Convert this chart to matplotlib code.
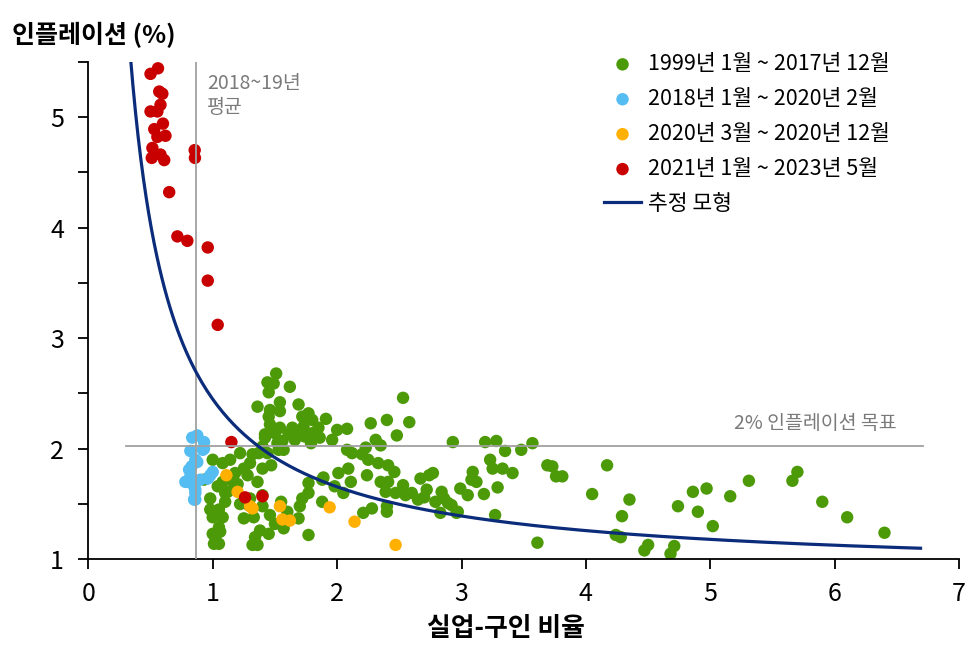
import numpy as np
import matplotlib
matplotlib.use('Agg')
import matplotlib.pyplot as plt
from matplotlib.ticker import MultipleLocator

plt.rcParams['font.family'] = ['Noto Sans CJK KR', 'DejaVu Sans']

# (실업-구인 비율, 인플레이션)
green_pts = [
    (1.00, 1.90), (0.93, 1.72), (1.08, 1.87), (1.14, 1.90), (1.04, 1.66),
    (1.12, 1.61), (1.10, 1.52), (0.98, 1.55), (0.98, 1.45), (1.05, 1.45),
    (1.08, 1.38), (1.00, 1.38), (1.05, 1.29), (1.00, 1.23), (1.01, 1.14),
    (1.05, 1.14), (1.08, 1.70), (1.17, 1.69), (1.18, 1.78), (1.02, 1.20),
    (1.06, 1.25), (1.10, 1.60),
    (1.22, 1.96), (1.32, 1.95), (1.37, 1.96), (1.30, 1.87), (1.25, 1.82),
    (1.40, 1.82), (1.36, 1.70), (1.29, 1.49), (1.33, 1.38), (1.25, 1.37),
    (1.40, 1.48), (1.38, 1.26), (1.45, 1.23), (1.34, 1.20), (1.36, 1.13),
    (1.50, 1.32), (1.57, 1.28), (1.53, 1.99), (1.57, 1.99), (1.44, 1.96),
    (1.20, 1.68), (1.28, 1.76), (1.47, 1.85), (1.30, 1.55), (1.22, 1.50),
    (1.40, 1.58), (1.32, 1.13), (1.46, 1.40), (1.55, 1.52), (1.60, 1.43),
    (1.51, 2.68), (1.44, 2.60), (1.49, 2.59), (1.62, 2.56), (1.45, 2.51),
    (1.36, 2.38), (1.54, 2.42), (1.69, 2.40), (1.46, 2.35), (1.54, 2.34),
    (1.45, 2.29), (1.72, 2.29), (1.77, 2.32), (1.80, 2.26), (1.91, 2.27),
    (1.46, 2.22), (1.54, 2.19), (1.64, 2.19), (1.73, 2.20), (1.85, 2.19),
    (2.00, 2.17), (2.08, 2.18), (1.42, 2.13), (1.50, 2.14), (1.61, 2.13),
    (1.74, 2.11), (1.86, 2.10), (1.96, 2.08), (1.56, 2.07), (1.42, 2.10),
    (1.52, 2.05), (1.68, 2.16), (1.80, 2.14), (1.66, 2.08), (1.79, 2.05),
    (1.40, 2.02),
    (2.27, 2.23), (2.40, 2.26), (2.53, 2.46), (2.58, 2.24), (2.48, 2.12),
    (2.31, 2.08), (2.35, 2.03), (2.23, 2.01), (2.08, 1.99), (2.12, 1.96),
    (2.25, 1.90), (2.33, 1.87), (2.41, 1.85), (2.09, 1.82), (2.24, 1.76),
    (2.01, 1.78), (1.89, 1.74), (2.11, 1.70), (2.35, 1.70), (2.41, 1.70),
    (2.46, 1.79), (1.88, 1.72), (1.77, 1.69), (1.77, 1.60), (2.39, 1.61),
    (2.47, 1.60), (2.28, 1.46), (2.21, 1.42), (2.40, 1.48), (2.40, 1.43),
    (1.88, 1.52), (1.70, 1.48), (1.69, 1.37), (1.77, 1.22), (1.72, 1.55),
    (2.20, 1.95), (1.98, 1.66), (2.05, 1.60),
    (2.53, 1.67), (2.67, 1.73), (2.77, 1.78), (2.74, 1.76), (2.60, 1.60),
    (2.72, 1.63), (2.84, 1.61), (2.99, 1.64), (3.05, 1.58), (2.65, 1.54),
    (2.79, 1.52), (2.89, 1.51), (2.97, 1.43), (2.83, 1.42), (2.96, 1.42),
    (2.93, 2.06), (3.19, 2.06), (3.28, 2.07), (3.35, 1.98), (3.48, 1.99),
    (3.57, 2.05), (3.23, 1.90), (3.25, 1.82), (3.33, 1.82), (3.41, 1.78),
    (3.09, 1.79), (3.12, 1.70), (3.08, 1.72), (3.27, 1.40), (3.29, 1.65),
    (3.18, 1.59), (3.61, 1.15), (2.55, 1.58), (2.70, 1.56), (2.86, 1.55),
    (2.92, 1.49),
    (3.69, 1.85), (3.73, 1.84), (3.76, 1.75), (3.81, 1.75), (4.17, 1.85),
    (4.05, 1.59), (4.35, 1.54), (4.29, 1.39), (4.24, 1.22), (4.28, 1.20),
    (4.50, 1.13), (4.47, 1.08), (4.71, 1.12), (4.68, 1.05), (4.74, 1.48),
    (4.86, 1.61), (4.97, 1.64), (4.90, 1.43), (5.02, 1.30), (5.16, 1.57),
    (5.31, 1.71), (5.66, 1.71), (5.70, 1.79), (5.90, 1.52), (6.10, 1.38),
    (6.40, 1.24),
]

blue_pts = [
    (0.835, 2.10), (0.876, 2.12), (0.93, 2.06), (0.93, 2.00), (0.82, 1.98),
    (0.92, 1.99), (0.86, 1.90), (0.876, 1.88), (0.81, 1.81), (0.82, 1.75),
    (0.98, 1.76), (1.00, 1.79), (0.96, 1.73), (0.78, 1.70), (0.795, 1.70),
    (0.85, 1.66), (0.86, 1.63), (0.86, 1.60), (0.85, 1.54), (0.86, 1.54),
    (0.83, 1.84), (0.90, 1.72),
]

orange_pts = [
    (1.20, 1.61), (1.11, 1.76), (1.30, 1.48), (1.32, 1.46), (1.54, 1.48),
    (1.56, 1.36), (1.62, 1.35), (1.94, 1.47), (2.14, 1.34), (2.47, 1.13),
]

red_pts = [
    (0.56, 5.44), (0.50, 5.39), (0.57, 5.23), (0.595, 5.21), (0.58, 5.11),
    (0.50, 5.05), (0.555, 5.05), (0.60, 4.94), (0.53, 4.89), (0.62, 4.83),
    (0.555, 4.82), (0.515, 4.72), (0.58, 4.66), (0.51, 4.63), (0.61, 4.61),
    (0.855, 4.70), (0.857, 4.63), (0.65, 4.32), (0.716, 3.92), (0.796, 3.88),
    (0.96, 3.82), (0.96, 3.52), (1.04, 3.12), (1.15, 2.06), (1.26, 1.56),
    (1.40, 1.57),
]

labels = ['1999년 1월 ~ 2017년 12월', '2018년 1월 ~ 2020년 2월',
          '2020년 3월 ~ 2020년 12월', '2021년 1월 ~ 2023년 5월']
colors = ['#4c9a08', '#55bdf2', '#ffb000', '#c80000']

# estimated model: inflation = a + b / ratio
model_a = 0.863
model_b = 1.585
model_x = (0.337, 6.69)

avg_ratio = 0.866      # 2018~19 average
target = 2.02          # 2% target line


def draw():
    fig = plt.figure(figsize=(9.76, 6.64), dpi=100)
    ax = fig.add_axes([0.0905, 0.1577, 0.8922, 0.7494])

    groups = [green_pts, blue_pts, orange_pts, red_pts]
    for pts, lab, col in zip(groups, labels, colors):
        xs = [p[0] for p in pts]
        ys = [p[1] for p in pts]
        ax.scatter(xs, ys, s=80, color=col, edgecolors='none',
                   label=lab, zorder=2)

    xx = np.linspace(model_x[0], model_x[1], 300)
    ax.plot(xx, model_a + model_b / xx, color='#0b2c7a', lw=2.3,
            label='추정 모형', zorder=4)

    ax.plot([avg_ratio, avg_ratio], [1, 5.5], color='#a0a0a0', lw=1.3,
            zorder=3)
    ax.plot([0.30, 6.71], [target, target], color='#a0a0a0', lw=1.3,
            zorder=3)
    ax.text(0.955, 5.40, '2018~19년\n평균', color='#7a7a7a', fontsize=14,
            ha='left', va='top', linespacing=1.2)
    ax.text(5.84, 2.23, '2% 인플레이션 목표', color='#7a7a7a',
            fontsize=14, ha='center', va='center')

    ax.set_xlim(0, 7)
    ax.set_ylim(1, 5.5)
    ax.set_xticks(range(0, 8))
    ax.set_yticks([1, 2, 3, 4, 5])
    ax.yaxis.set_minor_locator(MultipleLocator(0.5))
    ax.tick_params(axis='both', which='both', direction='out', width=1.3,
                   length=7.5, labelsize=18)
    ax.tick_params(axis='y', which='major', pad=10)
    ax.tick_params(axis='x', pad=8)
    for side in ['top', 'right']:
        ax.spines[side].set_visible(False)
    for side in ['left', 'bottom']:
        ax.spines[side].set_linewidth(1.3)

    fig.text(12 / 976, 1 - 35 / 664, '인플레이션 (%)', fontsize=18,
             fontweight='bold', ha='left', va='center')
    ax.set_xlabel('실업-구인 비율', fontsize=18.6, fontweight='bold')
    ax.xaxis.label.set_va('center')
    ax.xaxis.set_label_coords(0.4797, -0.14)

    ax.legend(loc='upper left', bbox_to_anchor=(604 / 976, 1 - 53 / 664),
              bbox_transform=fig.transFigure, frameon=False,
              prop={'size': 15.5, 'weight': 'medium'},
              handlelength=1.72, handletextpad=0.33, labelspacing=0.6,
              borderpad=0, borderaxespad=0, scatterpoints=1)

    fig.savefig('out.png', dpi=100)


if __name__ == '__main__':
    draw()
